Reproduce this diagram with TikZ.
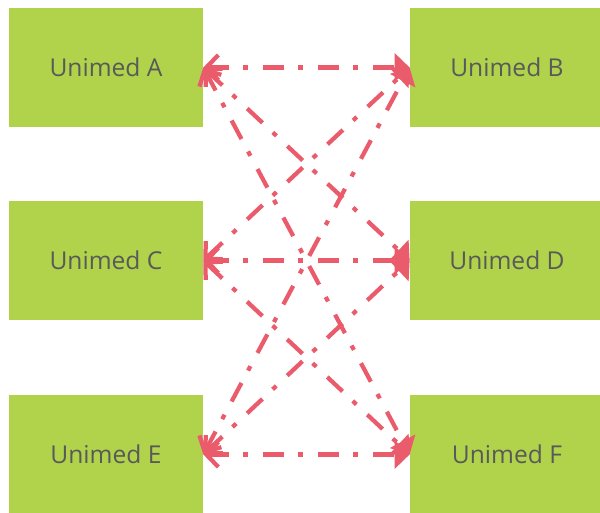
\documentclass[tikz,border=0pt]{standalone}
\usepackage{fontspec}
\setmainfont{Open Sans}
\usetikzlibrary{arrows.meta}
\definecolor{boxgreen}{RGB}{177,211,75}
\definecolor{linkred}{RGB}{234,92,108}
\definecolor{labelgray}{RGB}{89,89,89}
\tikzset{
  unitbox/.style={fill=boxgreen, draw=none, minimum width=3.88cm, minimum height=2.38cm,
    inner sep=0pt, text=labelgray, font=\fontsize{14}{16}\selectfont},
  link/.style={linkred, line width=0.085cm,
    dash pattern=on 0.42cm off 0.28cm on 0.1cm off 0.3cm,
    arrows={Straight Barb[length=0.24cm,width=0.5cm,line width=0.085cm]-Triangle[length=0.3cm,width=0.56cm]}},
}
\begin{document}
\begin{tikzpicture}
  \useasboundingbox (0,0) rectangle (12.000000,10.260000);

  % Drawing box A, C, E (left column)
  \node [unitbox] (uA) at (2.120000,8.910000) {Unimed A};
  \node [unitbox] (uC) at (2.120000,5.050000) {Unimed C};
  \node [unitbox] (uE) at (2.120000,1.170000) {Unimed E};

  % Drawing box B, D, F (right column)
  \node [unitbox] (uB) at (10.140000,8.910000) {Unimed B};
  \node [unitbox] (uD) at (10.140000,5.050000) {Unimed D};
  \node [unitbox] (uF) at (10.140000,1.170000) {Unimed F};

  % Drawing links from A
  \draw [link] (uA.east) -- (uB.west);
  \draw [link] (uA.east) -- (uD.west);
  \draw [link] (uA.east) -- (uF.west);

  % Drawing links from C
  \draw [link] (uC.east) -- (uB.west);
  \draw [link] (uC.east) -- (uD.west);
  \draw [link] (uC.east) -- (uF.west);

  % Drawing links from E
  \draw [link] (uE.east) -- (uB.west);
  \draw [link] (uE.east) -- (uD.west);
  \draw [link] (uE.east) -- (uF.west);
\end{tikzpicture}
\end{document}
